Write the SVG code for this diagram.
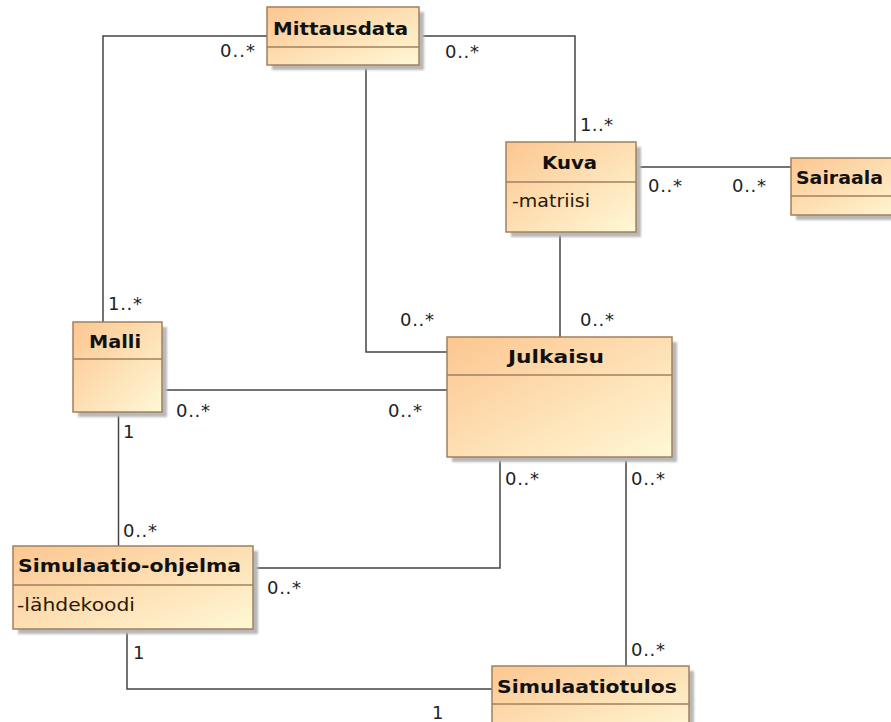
<svg xmlns="http://www.w3.org/2000/svg" width="891" height="722" viewBox="0 0 891 722">
<style>
.box{fill:url(#g);stroke:#a0805e;stroke-width:1.5}
.sh{fill:#b8b8b8;filter:url(#blur)}
.div{stroke:#a0805e;stroke-width:1.5}
.t{font-family:"DejaVu Sans",sans-serif;font-weight:bold;font-size:18px;fill:#111}
.a{font-family:"DejaVu Sans",sans-serif;font-size:18px;fill:#2a1808}
.l{font-family:"DejaVu Sans",sans-serif;font-size:18px;fill:#222}
.c{fill:none;stroke:#444;stroke-width:1.5}
</style>
<defs>
<linearGradient id="g" x1="0" y1="0" x2="1" y2="1">
<stop offset="0" stop-color="#fcc690"/>
<stop offset="1" stop-color="#fff8d6"/>
</linearGradient>
<filter id="blur" x="-10%" y="-10%" width="120%" height="120%"><feGaussianBlur stdDeviation="1.2"/></filter>
</defs>
<rect width="891" height="722" fill="#fff"/>
<g id="connectors">
<path class="c" d="M267 36H103V322"/>
<path class="c" d="M419 36H575V142"/>
<path class="c" d="M366 65V352H447"/>
<path class="c" d="M636 167H791"/>
<path class="c" d="M560 232V337"/>
<path class="c" d="M162 390H447"/>
<path class="c" d="M118.5 412V546"/>
<path class="c" d="M253 568H500V457"/>
<path class="c" d="M626 457V666"/>
<path class="c" d="M127 629V689H492"/>
<text class="l" x="220" y="57" textLength="35">0..*</text>
<text class="l" x="445" y="58" textLength="34">0..*</text>
<text class="l" x="580" y="131" textLength="33">1..*</text>
<text class="l" x="648" y="192" textLength="34">0..*</text>
<text class="l" x="732" y="192" textLength="34">0..*</text>
<text class="l" x="108" y="310" textLength="34">1..*</text>
<text class="l" x="400" y="326" textLength="34">0..*</text>
<text class="l" x="580" y="326" textLength="34">0..*</text>
<text class="l" x="176" y="417" textLength="34">0..*</text>
<text class="l" x="388" y="417" textLength="34">0..*</text>
<text class="l" x="123" y="438">1</text>
<text class="l" x="505" y="485" textLength="34">0..*</text>
<text class="l" x="631" y="485" textLength="34">0..*</text>
<text class="l" x="123" y="537" textLength="34">0..*</text>
<text class="l" x="267" y="594" textLength="34">0..*</text>
<text class="l" x="631" y="656" textLength="34">0..*</text>
<text class="l" x="133" y="659">1</text>
<text class="l" x="432" y="719">1</text>
</g>
<g id="Mittausdata">
<rect class="sh" x="272" y="12" width="152" height="58"/>
<rect class="box" x="267" y="7" width="152" height="58"/>
<line class="div" x1="267" y1="47" x2="419" y2="47"/>
<text class="t" x="273" y="35" textLength="135" lengthAdjust="spacingAndGlyphs">Mittausdata</text>
</g>
<g id="Kuva">
<rect class="sh" x="511" y="147" width="130" height="90"/>
<rect class="box" x="506" y="142" width="130" height="90"/>
<line class="div" x1="506" y1="182" x2="636" y2="182"/>
<text class="t" x="542" y="169" textLength="55" lengthAdjust="spacingAndGlyphs">Kuva</text>
<text class="a" x="512" y="207" textLength="78" lengthAdjust="spacingAndGlyphs">-matriisi</text>
</g>
<g id="Sairaala">
<rect class="sh" x="796" y="163" width="120" height="57"/>
<rect class="box" x="791" y="158" width="120" height="57"/>
<line class="div" x1="791" y1="196" x2="911" y2="196"/>
<text class="t" x="796" y="184" textLength="87" lengthAdjust="spacingAndGlyphs">Sairaala</text>
</g>
<g id="Malli">
<rect class="sh" x="78" y="327" width="89" height="90"/>
<rect class="box" x="73" y="322" width="89" height="90"/>
<line class="div" x1="73" y1="359" x2="162" y2="359"/>
<text class="t" x="89" y="348" textLength="52" lengthAdjust="spacingAndGlyphs">Malli</text>
</g>
<g id="Julkaisu">
<rect class="sh" x="452" y="342" width="225" height="120"/>
<rect class="box" x="447" y="337" width="225" height="120"/>
<line class="div" x1="447" y1="375" x2="672" y2="375"/>
<text class="t" x="508" y="363" textLength="96" lengthAdjust="spacingAndGlyphs">Julkaisu</text>
</g>
<g id="Simulaatio-ohjelma">
<rect class="sh" x="18" y="551" width="240" height="83"/>
<rect class="box" x="13" y="546" width="240" height="83"/>
<line class="div" x1="13" y1="585" x2="253" y2="585"/>
<text class="t" x="18" y="572" textLength="223" lengthAdjust="spacingAndGlyphs">Simulaatio-ohjelma</text>
<text class="a" x="17" y="611" textLength="118" lengthAdjust="spacingAndGlyphs">-lähdekoodi</text>
</g>
<g id="Simulaatiotulos">
<rect class="sh" x="497" y="671" width="197" height="70"/>
<rect class="box" x="492" y="666" width="197" height="70"/>
<line class="div" x1="492" y1="704" x2="689" y2="704"/>
<text class="t" x="497" y="693" textLength="180" lengthAdjust="spacingAndGlyphs">Simulaatiotulos</text>
</g>
</svg>
